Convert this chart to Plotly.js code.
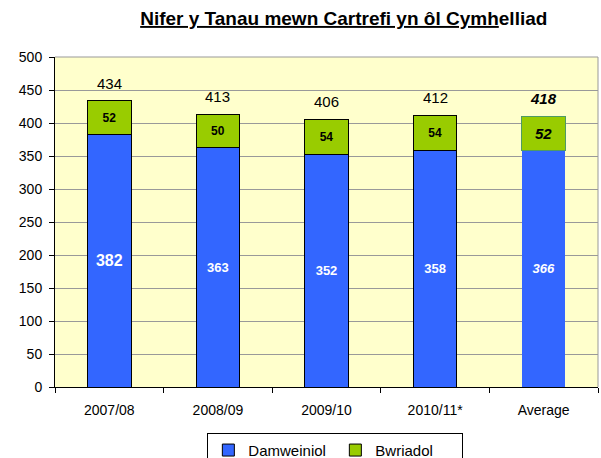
<!DOCTYPE html>
<html><head><meta charset="utf-8">
<script src="https://cdn.plot.ly/plotly-3.0.1.min.js"></script>
<style>html,body{margin:0;padding:0;background:#fff}</style>
</head><body>
<div id="chart" style="width:601px;height:458px"></div>
<script>
const categories = ["2007/08", "2008/09", "2009/10", "2010/11*", "Average"];
// bar heights as drawn in the picture
const damweiniol = [382, 363, 352, 358, 358];
const bwriadol = [52, 50, 54, 54, 52];
// labels as printed in the picture
const damweiniolLabels = ["382", "363", "352", "358", "366"];
const bwriadolLabels = ["52", "50", "54", "54", "52"];
const totalLabels = ["434", "413", "406", "412", "418"];

const isAvg = categories.map(c => c === "Average");
const fontFam = "Liberation Sans, Arial, sans-serif";

const fmt = (s, i) => isAvg[i] ? "<b><i>" + s + "</i></b>" : "<b>" + s + "</b>";

const traces = [
  {
    type: "bar", name: "Damweiniol", x: categories, y: damweiniol,
    text: damweiniolLabels.map(fmt), textposition: "inside", insidetextanchor: "middle",
    constraintext: "none", textangle: 0,
    textfont: {family: fontFam, color: "#ffffff", size: damweiniol.map((v, i) => i === 0 ? 16 : 13)},
    marker: {color: "#3366FF", line: {color: isAvg.map(a => a ? "rgba(0,0,0,0)" : "#000000"), width: 1}},
    hoverinfo: "skip"
  },
  {
    type: "bar", name: "Bwriadol", x: categories, y: bwriadol,
    text: bwriadolLabels.map(fmt), textposition: "inside", insidetextanchor: "middle",
    constraintext: "none", textangle: 0,
    textfont: {family: fontFam, color: "#000000", size: bwriadol.map((v, i) => isAvg[i] ? 15 : 12)},
    marker: {color: "#99CC00", line: {color: isAvg.map(a => a ? "#4f9a66" : "#000000"), width: 1}},
    hoverinfo: "skip"
  }
];

const annotations = categories.map((c, i) => ({
  x: c, y: damweiniol[i] + bwriadol[i], xref: "x", yref: "y",
  text: isAvg[i] ? "<b><i>" + totalLabels[i] + "</i></b>" : totalLabels[i],
  showarrow: false, yanchor: "bottom", yshift: 7,
  font: {family: fontFam, size: 15, color: "#000000"}
}));

const layout = {
  width: 601, height: 458,
  margin: {l: 55, r: 3, t: 57, b: 71, autoexpand: false},
  paper_bgcolor: "#ffffff", plot_bgcolor: "#FFFFCC",
  barmode: "stack", bargap: 0.6,
  font: {family: fontFam, size: 14, color: "#000000"},
  title: {
    text: "<u>Nifer y Tanau mewn Cartrefi yn ôl Cymh</u>elliad",
    x: 0.572, xanchor: "center", y: 0.96, yanchor: "middle",
    font: {family: fontFam, size: 19, weight: "bold", color: "#000000"}
  },
  xaxis: {
    type: "category", showline: true, linecolor: "#000000", linewidth: 1,
    ticks: "outside", tickson: "boundaries", ticklen: 5, tickcolor: "#000000",
    showgrid: false, tickfont: {size: 14}, fixedrange: true, ticklabelstandoff: 10
  },
  yaxis: {
    range: [0, 500], dtick: 50, showline: true, linecolor: "#000000", linewidth: 1,
    ticks: "outside", ticklen: 5, tickcolor: "#000000",
    showgrid: true, gridcolor: "#999999", gridwidth: 1, zeroline: false,
    tickfont: {size: 14}, fixedrange: true, ticklabelstandoff: 4
  },
  shapes: [
    {type: "line", xref: "paper", yref: "paper", x0: 0, x1: 1, y0: 1, y1: 1, line: {color: "#999999", width: 1}, layer: "below"},
    {type: "line", xref: "paper", yref: "paper", x0: 1, x1: 1, y0: 0, y1: 1, line: {color: "#999999", width: 1}, layer: "below"}
  ],
  legend: {
    orientation: "h", xref: "container", yref: "container",
    x: 0.558, xanchor: "center", y: 0.055, yanchor: "top",
    bordercolor: "#000000", borderwidth: 1, bgcolor: "#ffffff",
    traceorder: "normal", font: {size: 15}, itemwidth: 30, entrywidth: 82
  },
  annotations: annotations,
  showlegend: true
};

Plotly.newPlot("chart", traces, layout, {displayModeBar: false, staticPlot: true});
</script>
</body></html>
